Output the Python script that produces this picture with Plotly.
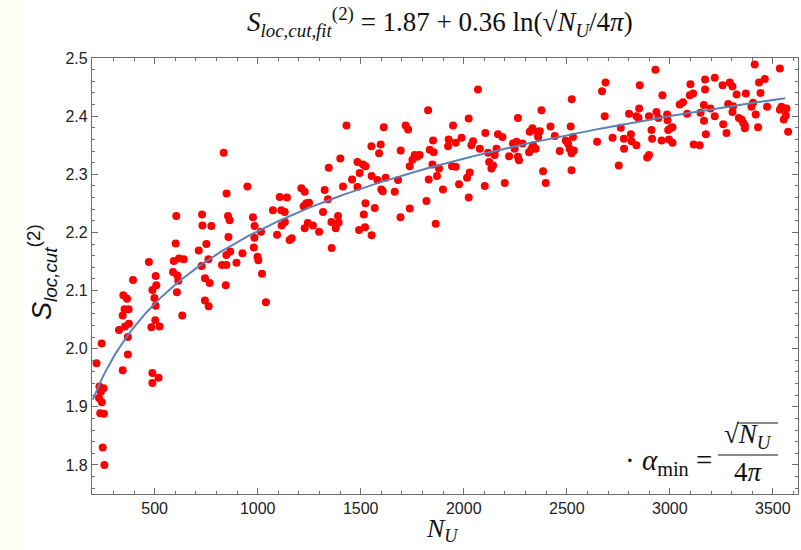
import numpy as np
import plotly.graph_objects as go

# Scatter data (N_U, S_loc,cut^(2))
N_U = [243, 218, 232, 252, 239, 230, 244, 236, 254, 248, 256,
       348, 366, 354, 374, 345, 375, 356, 327, 370, 370, 345, 395,
       472, 505, 508, 489, 499, 505, 503, 484, 524, 489, 519, 489,
       593, 618, 641, 605, 602, 589, 610, 615, 608, 634,
       714, 728, 744, 767, 761, 744, 762, 730, 732, 775, 751,
       835, 849, 856, 864, 858, 867, 848, 827, 848, 845, 897, 926,
       950, 977, 985, 984, 981, 999, 1003, 1021, 1040, 1016,
       1074, 1094, 1107, 1115, 1131, 1142, 1116, 1132, 1155, 1165,
       1212, 1228, 1223, 1236, 1249, 1228, 1243, 1268, 1298, 1317,
       1325, 1341, 1345, 1358, 1359, 1379, 1390, 1393, 1401, 1414,
       1431, 1458, 1484, 1495, 1484, 1492, 1511, 1523, 1515, 1523,
       1521, 1552, 1553, 1553, 1568, 1581, 1589, 1597, 1600, 1612,
       1607, 1621, 1665, 1681, 1694, 1693, 1718, 1730, 1738, 1738,
       1751, 1762, 1773, 1786, 1819, 1827, 1830, 1835, 1851, 1854,
       1848, 1864, 1870, 1880, 1899, 1927, 1924, 1948, 1961, 1989,
       1943, 1961, 1977, 2016, 2029, 2024, 2024, 2037, 2045, 2078,
       2069, 2105, 2118, 2123, 2134, 2142, 2102, 2150, 2159, 2166,
       2188, 2199, 2220, 2239, 2247, 2256, 2263, 2263, 2268, 2285,
       2317, 2320, 2328, 2333, 2336, 2349, 2356, 2369, 2361, 2377,
       2385, 2398, 2421, 2442, 2466, 2495, 2506, 2514, 2523, 2519,
       2524, 2530, 2523, 2534, 2647, 2671, 2684, 2688, 2722, 2752,
       2762, 2777, 2778, 2802, 2811, 2814, 2838, 2838, 2848, 2851,
       2854, 2890, 2899, 2899, 2911, 2914, 2930, 2935, 2945, 2960,
       2964, 2987, 2989, 2992, 2996, 3003, 3013, 3013, 3048, 3064,
       3084, 3097, 3100, 3113, 3116, 3145, 3149, 3165, 3166, 3171,
       3171, 3175, 3197, 3218, 3218, 3256, 3259, 3275, 3283, 3291,
       3304, 3304, 3307, 3324, 3335, 3348, 3356, 3364, 3364, 3369,
       3396, 3404, 3412, 3417, 3428, 3433, 3440, 3461, 3472, 3534,
       3534, 3542, 3553, 3563, 3566, 3574]

S_loc_cut = [2.009, 1.975, 1.935, 1.932, 1.926, 1.915, 1.908, 1.889, 1.888, 1.830, 1.800,
             2.092, 2.086, 2.068, 2.068, 2.057, 2.043, 2.038, 2.032, 2.020, 1.990, 1.963, 2.118,
             2.149, 2.125, 2.109, 2.101, 2.087, 2.074, 2.049, 2.037, 2.038, 1.958, 1.950, 1.941,
             2.151, 2.155, 2.154, 2.228, 2.181, 2.132, 2.126, 2.117, 2.097, 2.057,
             2.169, 2.142, 2.121, 2.113, 2.154, 2.083, 2.073, 2.231, 2.212, 2.211, 2.180,
             2.337, 2.267, 2.228, 2.221, 2.192, 2.167, 2.161, 2.144, 2.144, 2.109, 2.148, 2.164,
             2.279, 2.226, 2.211, 2.191, 2.174, 2.158, 2.152, 2.129, 2.080, 2.201,
             2.238, 2.196, 2.261, 2.238, 2.235, 2.260, 2.212, 2.218, 2.187, 2.190,
             2.276, 2.270, 2.245, 2.250, 2.251, 2.207, 2.216, 2.212, 2.201, 2.235,
             2.273, 2.257, 2.311, 2.218, 2.173, 2.207, 2.228, 2.217, 2.327, 2.279,
             2.384, 2.291, 2.321, 2.302, 2.278, 2.204, 2.317, 2.314, 2.231, 2.250,
             2.209, 2.348, 2.297, 2.195, 2.242, 2.290, 2.336, 2.351, 2.274, 2.381,
             2.271, 2.294, 2.270, 2.290, 2.341, 2.226, 2.384, 2.377, 2.314, 2.241,
             2.325, 2.333, 2.330, 2.333, 2.254, 2.410, 2.291, 2.342, 2.358, 2.338,
             2.317, 2.215, 2.297, 2.310, 2.274, 2.360, 2.348, 2.384, 2.354, 2.363,
             2.314, 2.313, 2.283, 2.294, 2.303, 2.260, 2.396, 2.350, 2.357, 2.344,
             2.446, 2.371, 2.337, 2.321, 2.310, 2.315, 2.280, 2.333, 2.344, 2.369,
             2.364, 2.285, 2.331, 2.353, 2.344, 2.356, 2.397, 2.330, 2.324, 2.353,
             2.338, 2.373, 2.343, 2.379, 2.350, 2.344, 2.373, 2.374, 2.364, 2.410,
             2.305, 2.285, 2.382, 2.366, 2.340, 2.358, 2.353, 2.344, 2.336, 2.382,
             2.429, 2.364, 2.307, 2.341, 2.356, 2.443, 2.400, 2.458, 2.363, 2.315,
             2.380, 2.361, 2.344, 2.404, 2.369, 2.357, 2.350, 2.400, 2.397, 2.413,
             2.453, 2.329, 2.333, 2.400, 2.376, 2.361, 2.480, 2.407, 2.397, 2.358,
             2.436, 2.403, 2.393, 2.376, 2.360, 2.379, 2.381, 2.354, 2.420, 2.424,
             2.404, 2.436, 2.455, 2.439, 2.351, 2.350, 2.406, 2.419, 2.392, 2.446,
             2.463, 2.369, 2.413, 2.466, 2.400, 2.453, 2.386, 2.371, 2.421, 2.458,
             2.451, 2.407, 2.417, 2.437, 2.397, 2.394, 2.388, 2.384, 2.379, 2.439,
             2.416, 2.423, 2.489, 2.403, 2.381, 2.458, 2.440, 2.464, 2.416, 2.482,
             2.411, 2.416, 2.394, 2.401, 2.413, 2.373]

# Fit parameters from the title: S = a + b ln(sqrt(N)/4pi)
fit_a = 1.87
fit_b = 0.36
fit_N_min, fit_N_max = 200, 3560

x_ticks = [500, 1000, 1500, 2000, 2500, 3000, 3500]
y_ticks = [1.8, 1.9, 2.0, 2.1, 2.2, 2.3, 2.4, 2.5]

N_fit = np.linspace(fit_N_min, fit_N_max, 300)
S_fit = fit_a + fit_b * np.log(np.sqrt(N_fit) / (4 * np.pi))

fig = go.Figure()
fig.add_trace(go.Scatter(x=N_U, y=S_loc_cut, mode="markers",
                         marker=dict(color="#FF0000", size=8, line=dict(width=0)),
                         showlegend=False, hoverinfo="x+y"))
fig.add_trace(go.Scatter(x=N_fit, y=S_fit, mode="lines",
                         line=dict(color="#5E81B5", width=2),
                         showlegend=False))

L, R, T, B = 92, 3, 58, 56
W, H = 801, 550
pw, ph = W - L - R, H - T - B

def px(x):
    return (x - L) / pw

def py(y):
    return (H - B - y) / ph

axis_common = dict(showline=True, linecolor="#6e6e6e", linewidth=1.2, mirror="allticks",
                   ticks="inside", ticklen=6, tickwidth=1, tickcolor="#6e6e6e",
                   showgrid=False, zeroline=False,
                   tickfont=dict(family="Liberation Sans, Arial", size=16, color="#222"))

fig.update_xaxes(range=[196, 3622], tickvals=x_ticks, ticktext=[str(v) for v in x_ticks],
                 minor=dict(ticks="inside", dtick=100, ticklen=3, tickcolor="#6e6e6e", showgrid=False),
                 **axis_common)
fig.update_yaxes(range=[1.75, 2.5], tickvals=y_ticks, ticktext=[f"{v:.1f}" for v in y_ticks],
                 minor=dict(ticks="inside", dtick=0.02, ticklen=3, tickcolor="#6e6e6e", showgrid=False),
                 **axis_common)

serif = "Liberation Serif, Times New Roman, serif"

def ann(text, x, y, size, family=serif, xanchor="center", **kw):
    return dict(text=text, x=px(x), y=py(y), xref="paper", yref="paper",
                xanchor=xanchor, yanchor="middle", showarrow=False,
                font=dict(family=family, size=size, color="#111"), **kw)

annotations = [
    ann("<i>S</i><sub><i>loc,cut,fit</i></sub><sup>(2)</sup> = 1.87 + 0.36 ln(√<i>N</i><sub><i>U</i></sub>/4<i>π</i>)",
        440, 22, 27),
    ann("<i>S</i><sub><i>loc,cut</i></sub><sup>(2)</sup>", 42, 272, 27,
        family="Liberation Sans, Arial", textangle=-90),
    ann("<i>N</i><sub><i>U</i></sub>", 442, 530, 26),
    ann("· <i>α</i><sub>min</sub> =", 714, 462, 29, xanchor="right"),
    ann("√<i>N</i><sub><i>U</i></sub>", 748, 436, 27),
    ann("4<i>π</i>", 748, 472, 27),
]

shapes = [
    dict(type="rect", xref="paper", yref="paper", x0=px(0), x1=px(19), y0=py(H), y1=py(0),
         fillcolor="#FFFEF2", line=dict(width=0), layer="below"),
    dict(type="line", xref="paper", yref="paper", x0=px(718), x1=px(778), y0=py(455), y1=py(455),
         line=dict(color="#111", width=1.2)),
    dict(type="line", xref="paper", yref="paper", x0=px(737), x1=px(778), y0=py(423), y1=py(423),
         line=dict(color="#111", width=1.2)),
]

fig.update_layout(width=W, height=H, margin=dict(l=L, r=R, t=T, b=B),
                  paper_bgcolor="white", plot_bgcolor="white",
                  annotations=annotations, shapes=shapes, showlegend=False)

fig.write_html("out.html")
